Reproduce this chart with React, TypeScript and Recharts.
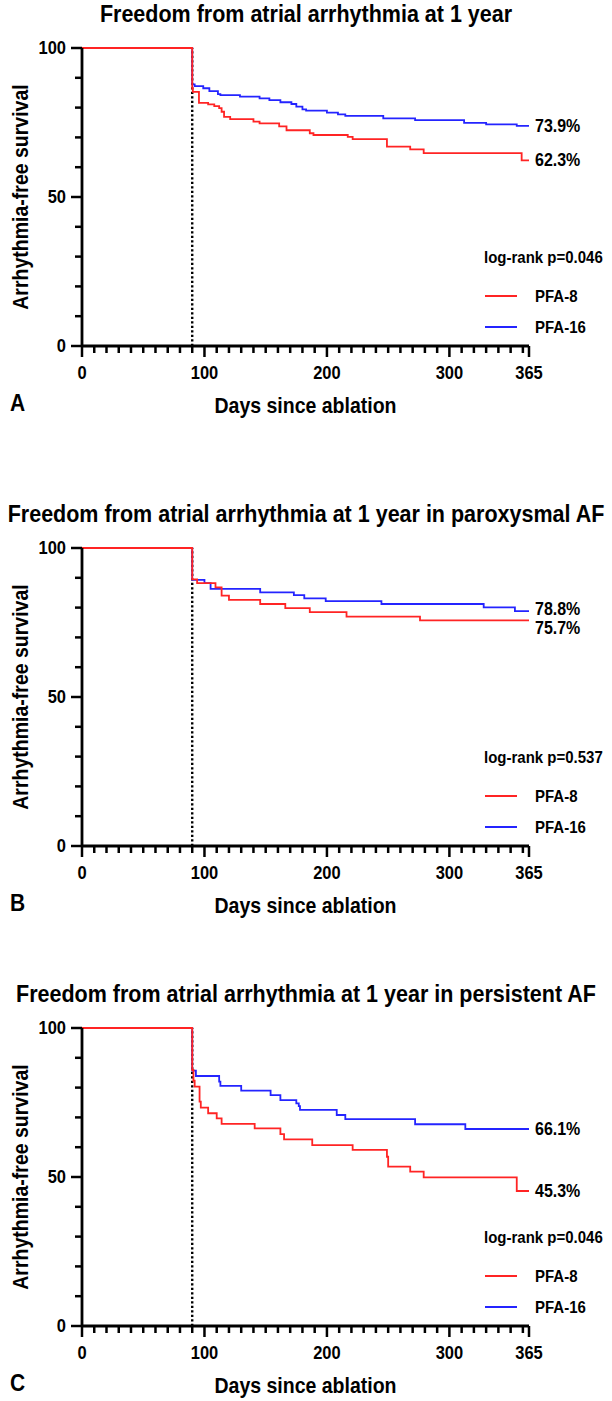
import { Line, LineChart, ReferenceLine, XAxis, YAxis } from 'recharts';

type Step = [number, number];

const TITLES = [
  'Freedom from atrial arrhythmia at 1 year',
  'Freedom from atrial arrhythmia at 1 year in paroxysmal AF',
  'Freedom from atrial arrhythmia at 1 year in persistent AF',
];
const PANEL_LETTERS = ['A', 'B', 'C'];
const LOG_RANK_P = ['0.046', '0.537', '0.046'];
const GROUPS = ['PFA-8', 'PFA-16'];

const X_TICKS = [
  0, 10, 20, 30, 40, 50, 60, 70, 80, 90, 100, 110, 120, 130, 140, 150, 160, 170, 180, 190, 200,
  210, 220, 230, 240, 250, 260, 270, 280, 290, 300, 310, 320, 330, 340, 350, 360, 365,
];
const X_LABELED = [0, 100, 200, 300, 365];
const Y_TICKS = [0, 10, 20, 30, 40, 50, 60, 70, 80, 90, 100];
const Y_LABELED = [0, 50, 100];
const BLANKING_DAY = 90;

// Kaplan-Meier steps: [day, % arrhythmia-free]
const A_PFA8: Step[] = [
  [0, 100], [90, 86.5], [90.5, 85.3], [95.5, 81.6], [103, 81.1], [108, 80.5], [112, 79.8],
  [114, 78.6], [116, 76.9], [121, 76.1], [140, 75.3], [145, 74.7], [161, 73.7], [167, 72.4],
  [186, 71.4], [189, 70.8], [217, 70.2], [221, 69.4], [249, 66.9], [268, 66.0], [279, 64.7],
  [359, 62.3], [365, 62.3],
];
const A_PFA16: Step[] = [
  [0, 100], [90, 87.8], [92, 87.2], [99, 86.5], [104, 85.5], [111, 84.5], [113, 84.2],
  [129, 83.7], [145, 83.1], [153, 82.5], [162, 81.8], [171, 81.2], [175, 80.3], [180, 79.4],
  [183, 79.0], [200, 78.3], [209, 77.7], [215, 77.2], [246, 76.4], [272, 75.8], [312, 74.9],
  [330, 74.4], [355, 73.9], [365, 73.9],
];

const B_PFA8: Step[] = [
  [0, 100], [90, 89.5], [94, 88.2], [109, 86.8], [114, 84.0], [120, 82.6], [145.5, 81.2],
  [166, 79.8], [186, 78.5], [216, 77.0], [276, 75.7], [365, 75.7],
];
const B_PFA16: Step[] = [
  [0, 100], [90, 89.3], [100, 88.2], [105, 86.3], [145.5, 85.1], [173, 84.2], [181.5, 83.1],
  [199, 82.2], [244.5, 81.2], [328, 80.1], [353.5, 78.8], [365, 78.8],
];

const C_PFA8: Step[] = [
  [0, 100], [90, 85.9], [91, 82.3], [92, 80.3], [96, 75.3], [97, 73.3], [103, 71.4],
  [110, 69.7], [114, 67.8], [141, 66.3], [162, 64.4], [165, 62.6], [188, 60.7], [221, 59.1],
  [249, 56.8], [250, 53.5], [268, 51.8], [279, 49.9], [355, 45.3], [365, 45.3],
];
const C_PFA16: Step[] = [
  [0, 100], [90, 85.7], [93, 83.9], [112, 82.0], [113, 80.6], [130, 79.0], [154, 77.5],
  [162, 75.8], [175, 74.7], [177, 73.8], [178, 72.5], [208, 70.8], [215, 69.4], [272, 67.7],
  [313, 66.1], [365, 66.1],
];

const FONT = '"Liberation Sans", Arial, Helvetica, sans-serif';
const RED = '#ff2424';
const BLUE = '#2424ff';
const PANEL_TOPS = [0, 500, 980];
// glyphs in the figure are a little taller than they are wide
const TEXT_STRETCH = 1.1;
// nudge for end labels that would otherwise collide: [PFA-8, PFA-16]
const END_DY = [
  [0, 0],
  [8, -2],
  [0, 0],
];

const toRows = (steps: Step[]) => steps.map(([day, s]) => ({ day, s }));

const SvgText = ({ x, y, anchor = 'start', size, children }: any) => (
  <text
    transform={`translate(${x},${y}) scale(1,${TEXT_STRETCH})`}
    textAnchor={anchor}
    dominantBaseline='central'
    fontFamily={FONT}
    fontWeight={700}
    fontSize={size}
    fill='#000'
  >
    {children}
  </text>
);

const XTick = (props: any) => {
  const { x, y, payload } = props;
  const major = X_LABELED.includes(payload.value);
  return (
    <g>
      <line x1={x} x2={x} y1={y} y2={y + (major ? 11 : 7)} stroke='#000' strokeWidth={2.5} />
      {major && (
        <SvgText x={x} y={y + 27} anchor='middle' size={16.5}>
          {payload.value}
        </SvgText>
      )}
    </g>
  );
};

const YTick = (props: any) => {
  const { x, y, payload } = props;
  const major = Y_LABELED.includes(payload.value);
  return (
    <g>
      <line x1={x} x2={x - (major ? 11 : 7)} y1={y} y2={y} stroke='#000' strokeWidth={2.5} />
      {major && (
        <SvgText x={x - 16} y={y} anchor='end' size={16.5}>
          {payload.value}
        </SvgText>
      )}
    </g>
  );
};

// text label at the last step of a curve, showing its final value
const endLabel = (last: number, dy: number) => (props: any) => {
  const { cx, cy, index, payload } = props;
  if (index !== last) return <g key={`e-${index}`} />;
  return (
    <g key={`e-${index}`}>
      <SvgText x={cx + 6} y={cy + dy} size={16}>
        {`${payload.s.toFixed(1)}%`}
      </SvgText>
    </g>
  );
};

const textStyle = (size: number): React.CSSProperties => ({
  position: 'absolute',
  fontFamily: FONT,
  fontWeight: 700,
  fontSize: size,
  whiteSpace: 'nowrap',
  color: '#000',
});

const LegendBox = ({ p }: { p: string }) => {
  const row = (top: number, color: string, name: string) => (
    <div style={{ position: 'absolute', left: 0, top, height: 20, width: 130 }}>
      <div
        style={{
          position: 'absolute',
          left: 1,
          top: 9,
          width: 32,
          height: 2,
          background: color,
        }}
      />
      <div
        style={{
          position: 'absolute',
          left: 51,
          top: 0,
          lineHeight: '20px',
          transform: `scaleY(${TEXT_STRETCH})`,
        }}
      >
        {name}
      </div>
    </div>
  );
  return (
    <div style={{ ...textStyle(15), left: 484, top: 247, width: 128, height: 100 }}>
      <div
        style={{
          position: 'absolute',
          left: 0,
          top: 0,
          lineHeight: '20px',
          transform: `scaleY(${TEXT_STRETCH})`,
        }}
      >
        log-rank p={p}
      </div>
      {row(39, RED, GROUPS[0])}
      {row(70, BLUE, GROUPS[1])}
    </div>
  );
};

type PanelProps = {
  index: number;
  pfa8: Step[];
  pfa16: Step[];
};

function SurvivalPanel({ index, pfa8, pfa16 }: PanelProps) {
  const rows8 = toRows(pfa8);
  const rows16 = toRows(pfa16);
  const [dy8, dy16] = END_DY[index];
  return (
    <div style={{ position: 'absolute', left: 0, top: PANEL_TOPS[index], width: 612, height: 440 }}>
      <div
        style={{
          ...textStyle(21.5),
          left: 0,
          top: 0,
          width: 612,
          lineHeight: '28px',
          textAlign: 'center',
          transform: `scaleY(${TEXT_STRETCH})`,
        }}
      >
        {TITLES[index]}
      </div>
      <LineChart width={612} height={440} margin={{ top: 48, right: 83, bottom: 64, left: 22 }}>
        <XAxis
          type='number'
          dataKey='day'
          domain={[0, 365]}
          ticks={X_TICKS}
          interval={0}
          tickSize={0}
          tickMargin={0}
          tickLine={false}
          tick={(p: any) => <XTick {...p} />}
          axisLine={{ stroke: '#000', strokeWidth: 2.8 }}
          height={30}
        />
        <YAxis
          type='number'
          domain={[0, 100]}
          ticks={Y_TICKS}
          interval={0}
          tickSize={0}
          tickMargin={0}
          tickLine={false}
          tick={(p: any) => <YTick {...p} />}
          axisLine={{ stroke: '#000', strokeWidth: 2.8 }}
          width={60}
        />
        <ReferenceLine
          x={BLANKING_DAY}
          stroke='#000'
          strokeWidth={2.4}
          strokeDasharray='2.2 2.3'
        />
        <Line
          data={rows16}
          dataKey='s'
          type='stepAfter'
          stroke={BLUE}
          strokeWidth={1.8}
          dot={endLabel(rows16.length - 1, dy16)}
          activeDot={false}
          isAnimationActive={false}
        />
        <Line
          data={rows8}
          dataKey='s'
          type='stepAfter'
          stroke={RED}
          strokeWidth={1.8}
          dot={endLabel(rows8.length - 1, dy8)}
          activeDot={false}
          isAnimationActive={false}
        />
      </LineChart>
      <div
        style={{
          ...textStyle(19.5),
          left: 21,
          top: 197,
          transform: `translate(-50%, -50%) rotate(-90deg) scaleY(${TEXT_STRETCH})`,
        }}
      >
        Arrhythmia-free survival
      </div>
      <div
        style={{
          ...textStyle(19.5),
          left: 82,
          width: 447,
          top: 392,
          lineHeight: '26px',
          textAlign: 'center',
          transform: `scaleY(${TEXT_STRETCH})`,
        }}
      >
        Days since ablation
      </div>
      <div
        style={{
          ...textStyle(21),
          left: 10,
          top: 390,
          lineHeight: '26px',
          transform: `scaleY(${TEXT_STRETCH})`,
        }}
      >
        {PANEL_LETTERS[index]}
      </div>
      <LegendBox p={LOG_RANK_P[index]} />
    </div>
  );
}

export default function App() {
  return (
    <div
      style={{
        position: 'absolute',
        left: 0,
        top: 0,
        width: 612,
        height: 1401,
        background: '#fff',
        overflow: 'hidden',
      }}
    >
      <SurvivalPanel index={0} pfa8={A_PFA8} pfa16={A_PFA16} />
      <SurvivalPanel index={1} pfa8={B_PFA8} pfa16={B_PFA16} />
      <SurvivalPanel index={2} pfa8={C_PFA8} pfa16={C_PFA16} />
    </div>
  );
}
